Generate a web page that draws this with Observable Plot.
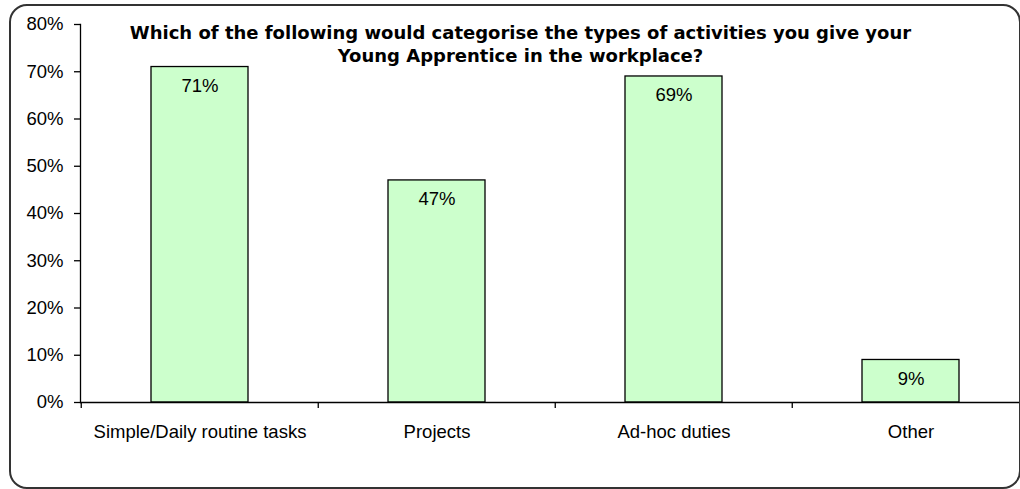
<!DOCTYPE html>
<html>
<head>
<meta charset="utf-8">
<script src="https://cdn.jsdelivr.net/npm/d3@7"></script>
<script src="https://cdn.jsdelivr.net/npm/@observablehq/plot@0.6"></script>
<style>
  html, body { margin: 0; padding: 0; background: #fff; overflow: hidden; }
  #wrap { position: relative; width: 1020px; height: 489px; overflow: hidden; }
  #border { position: absolute; left: 9px; top: 4px; width: 1008px; height: 481px;
            border: 2px solid #333; border-radius: 18px; pointer-events: none; }
  #chart svg { display: block; }
</style>
</head>
<body>
<div id="wrap"><div id="chart"></div><div id="border"></div></div>
<script>
const categories = ["Simple/Daily routine tasks", "Projects", "Ad-hoc duties", "Other"];
const values = [0.71, 0.47, 0.69, 0.09];
const valueLabels = ["71%", "47%", "69%", "9%"];
const yTicks = [0, 0.1, 0.2, 0.3, 0.4, 0.5, 0.6, 0.7, 0.8];
const titleText = "Which of the following would categorise the types of activities you give your\nYoung Apprentice in the workplace?";

const data = categories.map((c, i) => ({category: c, value: values[i], label: valueLabels[i]}));

const step = (1030 - 80) / categories.length;

const chart = Plot.plot({
  width: 1020,
  height: 489,
  marginLeft: 80,
  marginRight: 0,
  marginTop: 24,
  marginBottom: 87,
  style: {fontFamily: "Liberation Sans, Arial, sans-serif", fontSize: "18.5px", color: "#000", background: "transparent"},
  x: {domain: categories, range: [80, 1030], paddingInner: 0.59, paddingOuter: 0.295, align: 0.5},
  y: {domain: [0, 0.8], ticks: yTicks},
  marks: [
    Plot.barY(data, {x: "category", y: "value", fill: "#CCFFCC", stroke: "#000", strokeWidth: 1.3}),
    Plot.text(data, {x: "category", y: "value", text: "label", dy: 19, fontSize: 18.5, fill: "#000"}),
    Plot.ruleY([0], {stroke: "#000", strokeWidth: 1.3}),
    Plot.ruleX(categories, {x: d => d, y1: 0, y2: 0, dx: -step / 2, insetBottom: -6, stroke: "#000", strokeWidth: 1.3}),
    Plot.frame({anchor: "left", stroke: "#000", strokeWidth: 1.3}),
    Plot.axisY({ticks: yTicks, tickFormat: d3.format(".0%"), tickSize: 6, tickPadding: 11, stroke: "#000", strokeWidth: 1.3, strokeOpacity: 1, fontSize: 18.5, label: null}),
    Plot.axisX({tickSize: 0, tickPadding: 22, fontSize: 18.5, label: null}),
    Plot.text([titleText], {frameAnchor: "top", text: d => d, dx: -30, dy: -2, lineAnchor: "top", lineHeight: 1.28,
      fontFamily: "DejaVu Sans", fontWeight: "bold", fontSize: 18, fill: "#000"})
  ]
});
document.getElementById("chart").appendChild(chart);
</script>
</body>
</html>
